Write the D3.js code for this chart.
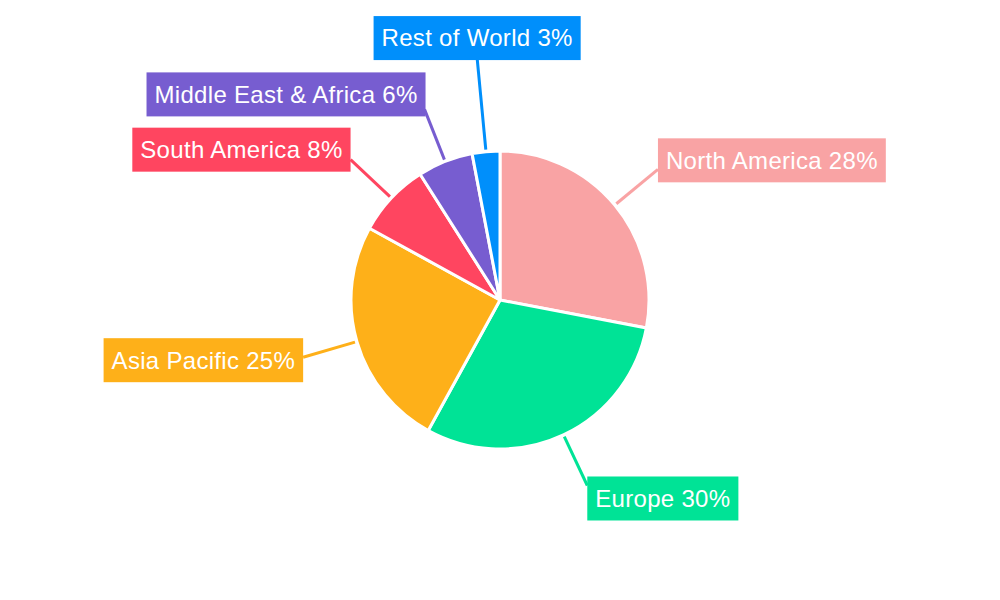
<!DOCTYPE html>
<html>
<head>
<meta charset="utf-8">
<script src="https://cdn.jsdelivr.net/npm/d3@7"></script>
<style>
  body { margin: 0; background: #fff; }
  text { font-family: "Liberation Sans", Arial, sans-serif; }
</style>
</head>
<body>
<div id="chart"></div>
<script>
var regions = ["North America", "Europe", "Asia Pacific", "South America", "Middle East & Africa", "Rest of World"];
var shares = [28, 30, 25, 8, 6, 3];
var colors = ["#f9a3a4", "#00e396", "#feb019", "#ff4560", "#775dd0", "#008ffb"];

var width = 1000, height = 600, radius = 149;
var cx = 500, cy = 300;

var data = regions.map(function(r, i) { return {name: r, value: shares[i], color: colors[i]}; });

var svg = d3.select("#chart").append("svg")
    .attr("width", width)
    .attr("height", height);

var g = svg.append("g").attr("transform", "translate(" + cx + "," + cy + ")");

var pie = d3.pie().sort(null).value(function(d) { return d.value; });
var arc = d3.arc().innerRadius(0).outerRadius(radius);
var arcs = pie(data);

g.selectAll("path.slice")
    .data(arcs)
    .enter().append("path")
    .attr("class", "slice")
    .attr("d", arc)
    .attr("fill", function(d) { return d.data.color; })
    .attr("stroke", "#fff")
    .attr("stroke-width", 3);

// leader lines + label boxes
arcs.forEach(function(d) {
    var a = (d.startAngle + d.endAngle) / 2;
    var outer = d.data.value < 5 ? 243 : 205;
    var sx = Math.sin(a) * (radius + 2), sy = -Math.cos(a) * (radius + 2);
    var ex = Math.sin(a) * outer, ey = -Math.cos(a) * outer;

    g.append("line")
        .attr("x1", sx).attr("y1", sy)
        .attr("x2", ex).attr("y2", ey)
        .attr("stroke", d.data.color)
        .attr("stroke-width", 3);

    var lbl = g.append("g");
    var txt = lbl.append("text")
        .attr("fill", "#fff")
        .attr("font-size", 24)
        .attr("letter-spacing", 0.3)
        .attr("dy", "0.35em")
        .text(d.data.name + " " + d.data.value + "%");
    var w = txt.node().getComputedTextLength() + 16, h = 44;

    var bx, by;
    if (d.data.value < 5) {
        // top label sits centred above the line end
        bx = ex - w / 2; by = ey - h + 2;
    } else if (Math.abs(Math.sin(a)) < 0.4) {
        bx = ex - w + 1; by = ey - h + 7;
    } else if (Math.sin(a) > 0) {
        bx = ex; by = ey - h / 2 - (Math.cos(a) < 0 ? -13 : 9);
    } else {
        bx = ex - w; by = ey - h / 2 - (Math.cos(a) > 0 ? 10 : -3);
    }
    lbl.insert("rect", "text")
        .attr("x", bx).attr("y", by)
        .attr("width", w).attr("height", h)
        .attr("fill", d.data.color);
    txt.attr("x", bx + 8).attr("y", by + h / 2);
});
</script>
</body>
</html>
